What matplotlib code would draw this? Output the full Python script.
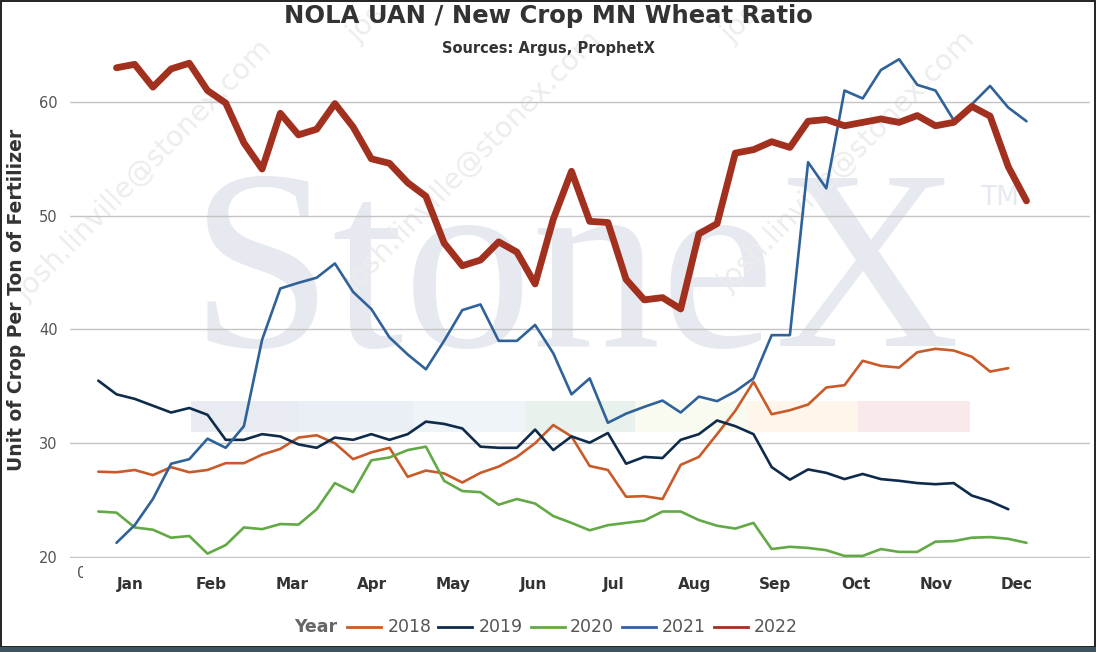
import numpy as np
import matplotlib
matplotlib.use('Agg')
import matplotlib.pyplot as plt
from matplotlib.lines import Line2D
from matplotlib.patches import Rectangle
from matplotlib.transforms import Bbox

# ---------------- data ----------------
months = ['Jan', 'Feb', 'Mar', 'Apr', 'May', 'Jun', 'Jul', 'Aug', 'Sep', 'Oct', 'Nov', 'Dec']
years = ['2018', '2019', '2020', '2021', '2022']
weeks = list(range(52))

v2018 = [27.5, 27.45, 27.65, 27.2, 27.9, 27.45, 27.65, 28.25, 28.25, 29.0, 29.5, 30.5, 30.7, 30.0,
         28.6, 29.2, 29.6, 27.05, 27.6, 27.35, 26.55, 27.4, 27.95, 28.8, 30.0, 31.6, 30.6,
         28.0, 27.65, 25.3, 25.35, 25.1, 28.1, 28.8, 30.8, 32.85, 35.4, 32.55, 32.9, 33.4,
         34.9, 35.1, 37.25, 36.8, 36.65, 38.0, 38.3, 38.15, 37.6, 36.3, 36.6]
v2019 = [35.5, 34.3, 33.9, 33.3, 32.7, 33.1, 32.5, 30.3, 30.3, 30.8, 30.6, 29.9, 29.6, 30.5,
         30.3, 30.8, 30.3, 30.8, 31.9, 31.7, 31.3, 29.7, 29.6, 29.6, 31.2, 29.4, 30.6,
         30.05, 30.9, 28.2, 28.8, 28.7, 30.3, 30.8, 32.0, 31.5, 30.8, 27.9, 26.8, 27.7,
         27.4, 26.85, 27.3, 26.85, 26.7, 26.5, 26.4, 26.5, 25.4, 24.9, 24.2]
v2020 = [24.0, 23.9, 22.6, 22.4, 21.7, 21.85, 20.3, 21.05, 22.6, 22.45, 22.9, 22.85, 24.2, 26.5,
         25.7, 28.5, 28.75, 29.4, 29.7, 26.7, 25.8, 25.7, 24.6, 25.1, 24.7, 23.6, 23.0,
         22.35, 22.8, 23.0, 23.2, 24.0, 24.0, 23.25, 22.75, 22.5, 23.0, 20.7, 20.9, 20.8,
         20.6, 20.1, 20.1, 20.7, 20.45, 20.45, 21.35, 21.4, 21.7, 21.75, 21.6, 21.25]
v2021 = [np.nan, 21.25, 22.8, 25.1, 28.2, 28.6, 30.4, 29.6, 31.5, 39.1, 43.6, 44.1, 44.55, 45.8,
         43.3, 41.8, 39.3, 37.8, 36.5, 39.0, 41.7, 42.2, 39.0, 39.0, 40.4, 37.9, 34.3,
         35.7, 31.8, 32.6, 33.2, 33.75, 32.7, 34.1, 33.7, 34.55, 35.7, 39.5, 39.5, 54.7,
         52.4, 61.0, 60.3, 62.8, 63.75, 61.5, 61.0, 58.4, 59.8, 61.4, 59.5, 58.3]
v2022 = [np.nan, 63.0, 63.3, 61.3, 62.9, 63.4, 61.0, 59.9, 56.4, 54.1, 59.0, 57.1, 57.6, 59.85,
         57.8, 55.0, 54.6, 52.9, 51.7, 47.6, 45.6, 46.1, 47.7, 46.8, 44.0, 49.7, 53.9,
         49.5, 49.4, 44.4, 42.6, 42.8, 41.8, 48.4, 49.3, 55.5, 55.8, 56.5, 56.0, 58.3,
         58.45, 57.9, 58.2, 58.5, 58.2, 58.8, 57.9, 58.2, 59.6, 58.75, 54.3, 51.3]
yticks = [20, 30, 40, 50, 60]

series = [v2018, v2019, v2020, v2021, v2022]
colors = ['#c95a2a', '#0e2b4b', '#63a946', '#30629a', '#a2301f']
widths = [1.9, 1.9, 1.9, 1.9, 4.9]

# ---------------- figure ----------------
W, H = 1096, 652
fig = plt.figure(figsize=(W / 100, H / 100), dpi=100)
fig.patch.set_facecolor('white')

def fx(p):
    return p / W

def fy(p):
    return 1 - p / H

# background watermark elements (behind plot)
wm = '#e6e9f0'
fig.text(fx(190), fy(346), 'StoneX', family='Liberation Serif', fontsize=185,
         color=wm, ha='left', va='baseline', zorder=0)
fig.text(fx(980), fy(205), 'TM', family='DejaVu Sans', fontsize=19,
         color=wm, ha='left', va='baseline', zorder=0)
band_edges = [191, 298, 413, 525, 635, 748, 858, 970]
band_cols = ['#e8ecf2', '#eaeef5', '#eff4f8', '#e8f1eb', '#fafbf0', '#fef6eb', '#f9e9eb']
for k, c in enumerate(band_cols):
    fig.patches.append(Rectangle((fx(band_edges[k]), fy(431.7)),
                                 fx(band_edges[k + 1] - band_edges[k]), (431.7 - 400.7) / H,
                                 transform=fig.transFigure, facecolor=c, edgecolor='none',
                                 zorder=0))

email = 'josh.linville@stonex.com'
for (ex, ey) in [(26, 302), (355, 293), (729, 293)]:
    fig.text(fx(ex), fy(ey), email, family='DejaVu Sans', fontsize=20.5, color='#ededed',
             rotation=45.5, rotation_mode='anchor', ha='left', va='baseline', zorder=0.5)
for (ex, ey) in [(358, 44), (732, 44)]:
    fig.text(fx(ex), fy(ey), 'jos', family='DejaVu Sans', fontsize=20.5, color='#ededed',
             rotation=45.5, rotation_mode='anchor', ha='left', va='baseline', zorder=0.5)

# ---------------- axes ----------------
ax = fig.add_axes([fx(70), fy(557.6), fx(1090 - 70), (557.6 - 45) / H])
ax.patch.set_alpha(0)
ax.set_zorder(2)

for vals, c, lw, lab in zip(series, colors, widths, years):
    ax.plot(weeks[:len(vals)], vals, color=c, lw=lw, label=lab,
            solid_joinstyle='round', solid_capstyle='round')

ax.set_xlim(-1.555, 54.49)
ax.set_ylim(19.95, 65.0)
ax.set_yticks(yticks)
ax.set_yticklabels([str(t) for t in yticks])
ax.set_xticks(np.linspace(1.77, 50.48, 12))
ax.set_xticklabels(months)
ax.tick_params(axis='y', length=0, pad=9, labelsize=10.5, labelcolor='#555555')
ax.tick_params(axis='x', length=0, pad=14, labelsize=11, labelcolor='#333333')
for t in ax.get_xticklabels():
    t.set_fontweight('bold')
for s in ax.spines.values():
    s.set_visible(False)
ax.grid(axis='y', color='#c4c4c4', lw=1.0)
ax.set_axisbelow(True)

fig.text(fx(16.7), fy(300), 'Unit of Crop Per Ton of Fertilizer', rotation=90,
         ha='center', va='center', fontsize=13.5, fontweight='bold', color='#333333')

# clipped stray label at the left of the x axis
z = fig.text(fx(82), fy(573), '0', ha='center', va='center', fontsize=11, color='#555555')
z.set_clip_box(Bbox.from_extents(0, 0, 82.5, H))
z.set_clip_on(True)

# ---------------- titles ----------------
fig.text(0.5, fy(16.5), 'NOLA UAN / New Crop MN Wheat Ratio', ha='center', va='center',
         fontsize=17.5, fontweight='bold', color='#333333')
fig.text(0.5, fy(48.5), 'Sources: Argus, ProphetX', ha='center', va='center',
         fontsize=10.5, fontweight='bold', color='#333333')

# ---------------- legend ----------------
ly = fy(627)
fig.text(fx(294), ly, 'Year', ha='left', va='center', fontsize=12.5, fontweight='bold',
         color='#666666')
line_starts = [347, 438, 531, 622, 713.6]
text_starts = [387.6, 479, 570, 662, 753.7]
for ls, ts, c, lab in zip(line_starts, text_starts, colors, years):
    fig.add_artist(Line2D([fx(ls), fx(ls + 34)], [ly, ly], color=c, lw=2.0,
                          transform=fig.transFigure))
    fig.text(fx(ts), ly, lab, ha='left', va='center', fontsize=12.5, color='#555555')

# ---------------- frame ----------------
fig.patches.append(Rectangle((fx(0.8), fy(647)), fx(1094.4), (647 - 0.8) / H,
                             transform=fig.transFigure, facecolor='none',
                             edgecolor='#111111', lw=1.3, zorder=5))
fig.patches.append(Rectangle((0, 0), 1, (652 - 647) / H, transform=fig.transFigure,
                             facecolor='#3e5361', edgecolor='none', zorder=6))

fig.savefig('out.png', dpi=100, facecolor='white')
